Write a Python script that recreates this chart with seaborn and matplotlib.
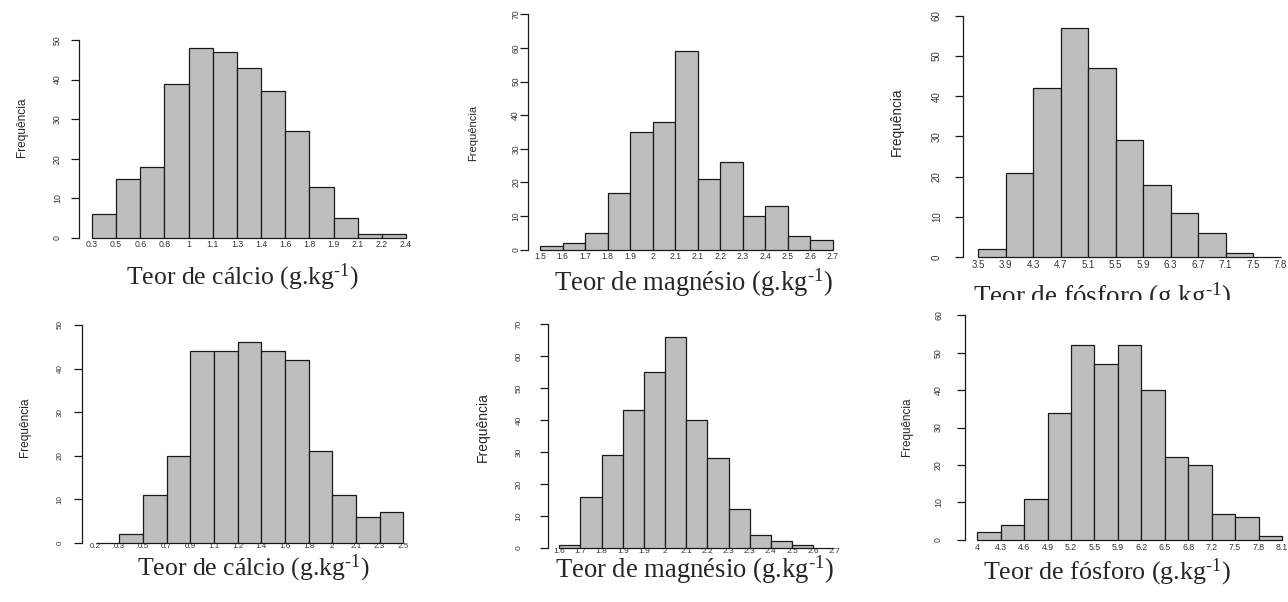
import numpy as np
import pandas as pd
import matplotlib
matplotlib.use("Agg")
import matplotlib.pyplot as plt
from matplotlib.transforms import Bbox, TransformedBbox
import seaborn as sns

sns.set_style("white")
plt.rcParams['font.family'] = ['Liberation Sans', 'DejaVu Sans']
plt.rcParams['mathtext.fontset'] = 'custom'
plt.rcParams['mathtext.rm'] = 'Liberation Serif'
plt.rcParams['mathtext.it'] = 'Liberation Serif:italic'

# histogram counts and bin-edge labels
ca1_counts = [6, 15, 18, 39, 48, 47, 43, 37, 27, 13, 5, 1, 1]
ca1_edges = ["0.3", "0.5", "0.6", "0.8", "1", "1.1", "1.3", "1.4", "1.6", "1.8", "1.9", "2.1", "2.2", "2.4"]

mg1_counts = [1, 2, 5, 17, 35, 38, 59, 21, 26, 10, 13, 4, 3]
mg1_edges = ["1.5", "1.6", "1.7", "1.8", "1.9", "2", "2.1", "2.1", "2.2", "2.3", "2.4", "2.5", "2.6", "2.7"]

p1_counts = [2, 21, 42, 57, 47, 29, 18, 11, 6, 1, 0]
p1_edges = ["3.5", "3.9", "4.3", "4.7", "5.1", "5.5", "5.9", "6.3", "6.7", "7.1", "7.5", "7.8"]

ca2_counts = [0, 2, 11, 20, 44, 44, 46, 44, 42, 21, 11, 6, 7]
ca2_edges = ["0.2", "0.3", "0.5", "0.7", "0.9", "1.1", "1.2", "1.4", "1.6", "1.8", "2", "2.1", "2.3", "2.5"]

mg2_counts = [1, 16, 29, 43, 55, 66, 40, 28, 12, 4, 2, 1, 0]
mg2_edges = ["1.6", "1.7", "1.8", "1.9", "1.9", "2", "2.1", "2.2", "2.3", "2.3", "2.4", "2.5", "2.6", "2.7"]

p2_counts = [2, 4, 11, 34, 52, 47, 52, 40, 22, 20, 7, 6, 1]
p2_edges = ["4", "4.3", "4.6", "4.9", "5.2", "5.5", "5.9", "6.2", "6.5", "6.8", "7.2", "7.5", "7.8", "8.1"]

ylabel = "Frequência"
xlabels = ["Teor de cálcio (g.kg$^{\\text{-1}}$)",
           "Teor de magnésio (g.kg$^{\\text{-1}}$)",
           "Teor de fósforo (g.kg$^{\\text{-1}}$)"]

W, H = 1288, 602
fig = plt.figure(figsize=(W / 100, H / 100), dpi=100)
PX = 100 / 72  # pixels per point

# layout in pixels: y-axis x, first bar left, last bar right, baseline y, top y, ymax,
# xlabel centre, ylabel centre, tick label offsets and sizes
panels = [
    dict(c=ca1_counts, e=ca1_edges, xl=xlabels[0], yax=79, bl=92, br=406, y0=238, yt=40, ymax=50,
         xlab=(242, 277), ylab=(22, 127), xtd=7, ytd=22, ts=6.3, ls=8.6, xs=18.5),
    dict(c=mg1_counts, e=mg1_edges, xl=xlabels[1], yax=528.3, bl=540.3, br=832.7, y0=249.7, yt=14.3, ymax=70,
         xlab=(693, 283), ylab=(473, 133), xtd=7, ytd=11.7, ts=6.2, ls=8, xs=19.2),
    dict(c=p1_counts, e=p1_edges, xl=xlabels[2], yax=963.3, bl=978.3, br=1280.5, y0=257, yt=15.7, ymax=60,
         xlab=(1102, 297), ylab=(897, 122), xtd=9, ytd=27, ts=7, ls=9.8, xs=19.5, clip=300),
    dict(c=ca2_counts, e=ca2_edges, xl=xlabels[0], yax=81.7, bl=95.7, br=403.3, y0=543, yt=325, ymax=50,
         xlab=(253, 568), ylab=(25, 427), xtd=5, ytd=23, ts=5.8, ls=8.6, xs=18.5),
    dict(c=mg2_counts, e=mg2_edges, xl=xlabels[1], yax=547.7, bl=559.3, br=834.3, y0=547.7, yt=324.3, ymax=70,
         xlab=(694, 570), ylab=(483, 427), xtd=4, ytd=30, ts=6, ls=10, xs=19.2),
    dict(c=p2_counts, e=p2_edges, xl=xlabels[2], yax=965, bl=977.3, br=1282, y0=539.7, yt=315.3, ymax=60,
         xlab=(1107, 572), ylab=(907, 427), xtd=8, ytd=27, ts=6.3, ls=8.4, xs=18.7),
]

for p in panels:
    n = len(p["c"])
    bw = (p["br"] - p["bl"]) / n
    left_units = (p["bl"] - p["yax"]) / bw
    ax = fig.add_axes([p["yax"] / W, 1 - p["y0"] / H, (p["br"] - p["yax"]) / W, (p["y0"] - p["yt"]) / H])
    ax.patch.set_alpha(0)

    edges = list(range(n + 1))
    df = pd.DataFrame({"mid": np.arange(n) + 0.5, "count": np.asarray(p["c"], dtype=float)})
    sns.histplot(data=df, x="mid", weights="count", bins=edges, ax=ax,
                 color="#BEBEBE", edgecolor="#1a1a1a", linewidth=0.9, alpha=1)
    for bar in ax.patches:
        bar.set_clip_on(False)

    ax.set_xlim(-left_units, n)
    ax.set_ylim(0, p["ymax"])
    for s in ["top", "right", "bottom"]:
        ax.spines[s].set_visible(False)
    ax.spines["left"].set_color("#1a1a1a")
    ax.spines["left"].set_linewidth(0.9)

    ax.set_xticks(edges)
    ax.set_xticklabels(p["e"])
    ax.set_yticks(np.arange(0, p["ymax"] + 1, 10))
    th = p["ts"] * PX * 1.16
    ax.tick_params(axis="x", bottom=False, length=0, labelsize=p["ts"],
                   pad=max(p["xtd"] - th / 2, 0) / PX, colors="#333333")
    ax.tick_params(axis="y", left=True, length=8 / PX, width=0.9, labelsize=p["ts"], labelrotation=90,
                   pad=max(p["ytd"] - 8 - th / 2, 0) / PX, colors="#1a1a1a", labelcolor="#333333")
    for t in ax.get_yticklabels():
        t.set_va("center")

    ax.set_ylabel(ylabel, fontsize=p["ls"], va="center", ha="center")
    ax.yaxis.set_label_coords(p["ylab"][0] / W, 1 - p["ylab"][1] / H, transform=fig.transFigure)
    ax.set_xlabel(p["xl"], fontsize=p["xs"], family="Liberation Serif", va="center", ha="center")
    ax.xaxis.set_label_coords(p["xlab"][0] / W, 1 - p["xlab"][1] / H, transform=fig.transFigure)
    if "clip" in p:
        lab = ax.xaxis.label
        lab.set_clip_box(TransformedBbox(Bbox([[0, 1 - p["clip"] / H], [1, 1]]), fig.transFigure))
        lab.set_clip_on(True)

fig.savefig("out.png", dpi=100)
